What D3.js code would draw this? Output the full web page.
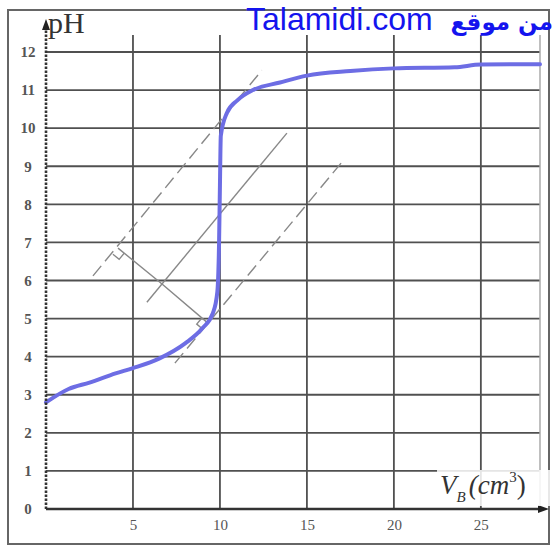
<!DOCTYPE html>
<meta charset="utf-8">
<html lang="fr">
<style>
    body { margin: 0; background: #fff; }
    .tick text { font-family: "Liberation Serif", serif; fill: #555; }
</style>
<head>
    <script src="https://d3js.org/d3.v7.min.js"></script>
</head>
<body>
<svg width="555" height="550"></svg>
</body>
<script>

    // titration curve: volume of base (cm3) and pH
    var volumes = [0, 1.3, 2.5, 4, 5, 6.5, 8, 9, 9.6, 9.85, 9.95, 10.0, 10.05, 10.4, 11.0, 11.9, 13.45, 15, 17.5, 20, 23.5, 25, 28.4];
    var phValues = [2.8, 3.15, 3.32, 3.56, 3.7, 3.95, 4.35, 4.75, 5.15, 5.7, 7.0, 8.5, 9.8, 10.4, 10.73, 11.0, 11.2, 11.38, 11.5, 11.57, 11.6, 11.67, 11.68];

    var xTicks = [5, 10, 15, 20, 25];
    var yTicks = [0, 1, 2, 3, 4, 5, 6, 7, 8, 9, 10, 11, 12];

    // parallel tangents method (V, pH end points)
    var tangentUpper = [[2.7, 6.12], [12.41, 11.52]];
    var tangentMiddle = [[5.8, 5.43], [13.85, 9.87]];
    var tangentLower = [[7.41, 3.83], [17.18, 9.2]];
    var perpendicular = [[4.14, 6.85], [6.67, 5.91], [9.31, 4.88]];

    var x = d3.scaleLinear().domain([0, 28.4]).range([46, 540]);
    var y = d3.scaleLinear().domain([0, 12]).range([509, 52]);

    var svg = d3.select("svg");

    // outer frame
    svg.append("rect")
        .attr("x", 8).attr("y", 10)
        .attr("width", 541).attr("height", 534)
        .attr("fill", "none")
        .attr("stroke", "#666")
        .attr("stroke-width", 2);

    // grid
    svg.append("g").selectAll("line")
        .data(yTicks.slice(1))
        .enter().append("line")
        .attr("x1", x(0)).attr("x2", x(28.4))
        .attr("y1", d => y(d)).attr("y2", d => y(d))
        .attr("stroke", "#505050").attr("stroke-width", 1.8);

    svg.append("g").selectAll("line")
        .data(xTicks)
        .enter().append("line")
        .attr("x1", d => x(d)).attr("x2", d => x(d))
        .attr("y1", y(0)).attr("y2", 35)
        .attr("stroke", "#505050").attr("stroke-width", 1.8);

    svg.append("line")
        .attr("x1", x(28.4)).attr("x2", x(28.4))
        .attr("y1", y(0)).attr("y2", 35)
        .attr("stroke", "#aaa").attr("stroke-width", 1.5);

    // tick labels
    var yAxis = svg.append("g")
        .attr("transform", "translate(" + x(0) + ",0)")
        .call(d3.axisLeft(y).tickValues(yTicks).tickSize(0).tickPadding(18));
    yAxis.select(".domain").remove();
    yAxis.selectAll("text")
        .attr("text-anchor", "middle")
        .style("font-size", "15px")
        .style("font-weight", "bold");

    var xAxis = svg.append("g")
        .attr("transform", "translate(0," + y(0) + ")")
        .call(d3.axisBottom(x).tickValues(xTicks).tickSize(0).tickPadding(10));
    xAxis.select(".domain").remove();
    xAxis.selectAll("text")
        .style("font-size", "15px");

    // tangent lines
    var line = d3.line()
        .x(function (d) { return x(d[0]); })
        .y(function (d) { return y(d[1]); });

    svg.append("path").datum(tangentUpper)
        .attr("d", line).attr("fill", "none")
        .attr("stroke", "#888").attr("stroke-width", 1.4)
        .attr("stroke-dasharray", "13,6");
    svg.append("path").datum(tangentMiddle)
        .attr("d", line).attr("fill", "none")
        .attr("stroke", "#888").attr("stroke-width", 1.4);
    svg.append("path").datum(tangentLower)
        .attr("d", line).attr("fill", "none")
        .attr("stroke", "#888").attr("stroke-width", 1.4)
        .attr("stroke-dasharray", "13,6");
    svg.append("path").datum(perpendicular)
        .attr("d", line).attr("fill", "none")
        .attr("stroke", "#888").attr("stroke-width", 1.4);

    // right angle marks at both ends of the perpendicular
    function rightAngle(p, q, r, s) {
        var px = x(p[0]), py = y(p[1]);
        var vx = x(q[0]) - px, vy = y(q[1]) - py;
        var vl = Math.sqrt(vx * vx + vy * vy);
        vx /= vl; vy /= vl;
        var ux = x(r[1][0]) - x(r[0][0]), uy = y(r[1][1]) - y(r[0][1]);
        var ul = Math.sqrt(ux * ux + uy * uy);
        ux = -ux / ul; uy = -uy / ul;
        return "M" + (px + s * ux) + "," + (py + s * uy) +
            "L" + (px + s * ux + s * vx) + "," + (py + s * uy + s * vy) +
            "L" + (px + s * vx) + "," + (py + s * vy);
    }
    svg.append("path")
        .attr("d", rightAngle(perpendicular[0], perpendicular[1], tangentUpper, 8))
        .attr("fill", "none").attr("stroke", "#888").attr("stroke-width", 1.4);
    svg.append("path")
        .attr("d", rightAngle(perpendicular[2], perpendicular[1], tangentLower, 8))
        .attr("fill", "none").attr("stroke", "#888").attr("stroke-width", 1.4);

    // curve
    var curve = d3.line()
        .curve(d3.curveMonotoneX)
        .x(function (d, i) { return x(volumes[i]); })
        .y(function (d) { return y(d); });

    svg.append("path").datum(phValues)
        .attr("d", curve)
        .attr("fill", "none")
        .attr("stroke", "#6d6de4")
        .attr("stroke-width", 4)
        .attr("stroke-linecap", "round");

    // axes with arrows
    svg.append("line")
        .attr("x1", x(0)).attr("x2", x(0))
        .attr("y1", y(0)).attr("y2", 28)
        .attr("stroke", "#333").attr("stroke-width", 2.6)
        .attr("stroke-dasharray", "2.5,1.5");
    svg.append("path")
        .attr("d", "M" + (x(0) - 4) + ",30L" + x(0) + ",19L" + (x(0) + 4) + ",30Z")
        .attr("fill", "#222");

    svg.append("line")
        .attr("x1", x(0)).attr("x2", 540)
        .attr("y1", y(0)).attr("y2", y(0))
        .attr("stroke", "#333").attr("stroke-width", 2.6);
    svg.append("path")
        .attr("d", "M538," + (y(0) - 4) + "L549," + y(0) + "L538," + (y(0) + 4) + "Z")
        .attr("fill", "#222");

    // axis titles
    svg.append("text")
        .attr("x", 48).attr("y", 33)
        .style("font-family", "Liberation Serif, serif")
        .style("font-size", "30px")
        .attr("fill", "#333")
        .text("pH");

    svg.append("rect")
        .attr("x", 437).attr("y", 470)
        .attr("width", 114).attr("height", 36)
        .attr("fill", "#fff").attr("fill-opacity", 0.85);

    var vb = svg.append("text")
        .attr("x", 440).attr("y", 494)
        .style("font-family", "Liberation Serif, serif")
        .style("font-style", "italic")
        .style("font-size", "27px")
        .attr("fill", "#333");
    vb.append("tspan").text("V");
    vb.append("tspan").attr("dy", 8).style("font-size", "15px").text("B");
    vb.append("tspan").attr("dy", -8).attr("dx", 3).text("(cm");
    vb.append("tspan").attr("dy", -12).style("font-size", "15px").style("font-style", "normal").text("3");
    vb.append("tspan").attr("dy", 12).style("font-style", "normal").text(")");

    // watermark
    svg.append("text")
        .attr("x", 246).attr("y", 30)
        .style("font-family", "Liberation Sans, sans-serif")
        .style("font-size", "32px")
        .attr("fill", "#1414ee")
        .text("Talamidi.com");
    svg.append("text")
        .attr("x", 553).attr("y", 30)
        .attr("text-anchor", "end")
        .style("font-family", "DejaVu Sans, sans-serif")
        .style("font-size", "23px")
        .style("font-weight", "bold")
        .attr("fill", "#1414ee")
        .text("من موقع");

</script>
</html>
